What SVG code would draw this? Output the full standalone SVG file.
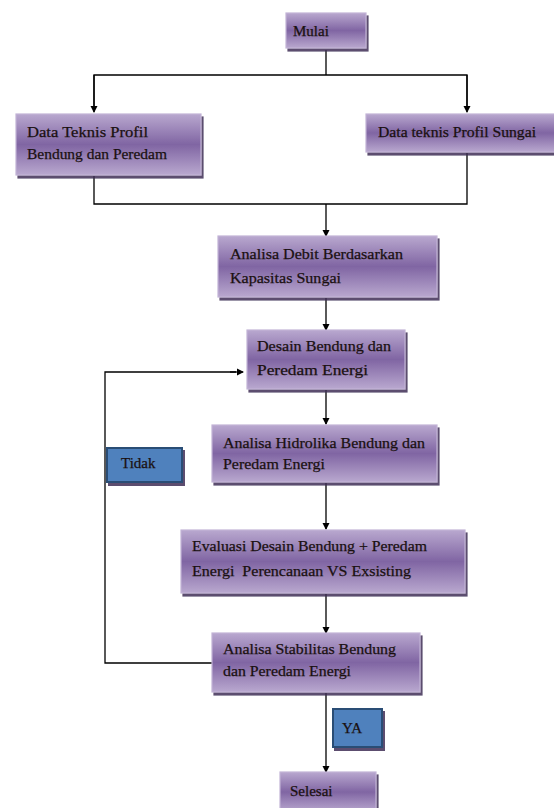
<svg xmlns="http://www.w3.org/2000/svg" width="554" height="808" viewBox="0 0 554 808">
<defs>
<linearGradient id="pg" x1="0" y1="0" x2="0" y2="1">
<stop offset="0" stop-color="#b9a8cf"/>
<stop offset="0.5" stop-color="#8065a3"/>
<stop offset="1" stop-color="#b9a8cf"/>
</linearGradient>
<filter id="sh" x="-10%" y="-10%" width="130%" height="140%">
<feOffset dx="1.5" dy="2.5" in="SourceAlpha" result="o"/>
<feFlood flood-color="#3f2f55" flood-opacity="0.85"/>
<feComposite in2="o" operator="in" result="s"/>
<feMerge><feMergeNode in="s"/><feMergeNode in="SourceGraphic"/></feMerge>
</filter>
<marker id="ah" markerWidth="8" markerHeight="8" refX="6" refY="4" orient="auto" markerUnits="userSpaceOnUse">
<path d="M0,0.5 L7,4 L0,7.5 Z" fill="#000"/>
</marker>
</defs>
<style>
.p{fill:url(#pg);stroke:#c2b3d6;stroke-width:1.2;filter:url(#sh)}
.b{fill:#4f81bd;stroke:#2c4d75;stroke-width:2;filter:url(#sh)}
text{font-family:"Liberation Serif","DejaVu Serif",serif;font-size:15px;fill:#1a1010;stroke:#1a1010;stroke-width:0.25}
.c line,.c polyline{stroke:#000;stroke-width:1.3;fill:none}
</style>
<rect width="554" height="808" fill="#fff"/>
<g class="c" id="connectors">
<line x1="326" y1="50" x2="326" y2="75"/>
<polyline points="94,106 94,75 467,75 467,106" />
<line x1="94" y1="75" x2="94" y2="112" marker-end="url(#ah)"/>
<line x1="467" y1="75" x2="467" y2="112" marker-end="url(#ah)"/>
<polyline points="94,176 94,204 94,204 467,204 467,153"/>
<line x1="326" y1="204" x2="326" y2="236" marker-end="url(#ah)"/>
<line x1="326" y1="298" x2="326" y2="330" marker-end="url(#ah)"/>
<line x1="326" y1="390" x2="326" y2="424" marker-end="url(#ah)"/>
<line x1="326" y1="483" x2="326" y2="529" marker-end="url(#ah)"/>
<line x1="326" y1="594" x2="326" y2="633" marker-end="url(#ah)"/>
<polyline points="212,663 105,663 105,372 236,372"/>
<line x1="230" y1="372" x2="243" y2="372" marker-end="url(#ah)"/>
<line x1="326" y1="693" x2="326" y2="772" marker-end="url(#ah)"/>
</g>
<g id="mulai"><rect class="p" x="286" y="13" width="80" height="35"/><text x="293" y="36">Mulai</text></g>
<g id="data-bendung"><rect class="p" x="16" y="114" width="185" height="61"/><text x="27" y="137" textLength="121" lengthAdjust="spacingAndGlyphs">Data Teknis Profil</text><text x="27" y="159" textLength="140" lengthAdjust="spacingAndGlyphs">Bendung dan Peredam</text></g>
<g id="data-sungai"><rect class="p" x="366" y="114" width="192" height="38"/><text x="378" y="137" textLength="158" lengthAdjust="spacingAndGlyphs">Data teknis Profil Sungai</text></g>
<g id="analisa-debit"><rect class="p" x="218" y="236" width="219" height="61"/><text x="230" y="259" textLength="173" lengthAdjust="spacingAndGlyphs">Analisa Debit Berdasarkan</text><text x="230" y="283" textLength="111" lengthAdjust="spacingAndGlyphs">Kapasitas Sungai</text></g>
<g id="desain"><rect class="p" x="247" y="330" width="158" height="59"/><text x="257" y="351" textLength="134" lengthAdjust="spacingAndGlyphs">Desain Bendung dan</text><text x="257" y="375" textLength="111" lengthAdjust="spacingAndGlyphs">Peredam Energi</text></g>
<g id="tidak"><rect class="b" x="107" y="448" width="75" height="34"/><text x="121" y="468">Tidak</text></g>
<g id="hidrolika"><rect class="p" x="212" y="425" width="225" height="57"/><text x="223" y="448" textLength="202" lengthAdjust="spacingAndGlyphs">Analisa Hidrolika Bendung dan</text><text x="223" y="469" textLength="102" lengthAdjust="spacingAndGlyphs">Peredam Energi</text></g>
<g id="evaluasi"><rect class="p" x="181" y="530" width="284" height="63"/><text x="192" y="551" textLength="235" lengthAdjust="spacingAndGlyphs">Evaluasi Desain Bendung + Peredam</text><text x="192" y="576" xml:space="preserve" textLength="219" lengthAdjust="spacingAndGlyphs">Energi  Perencanaan VS Exsisting</text></g>
<g id="stabilitas"><rect class="p" x="212" y="633" width="208" height="59"/><text x="223" y="654" textLength="173" lengthAdjust="spacingAndGlyphs">Analisa Stabilitas Bendung</text><text x="223" y="676" textLength="128" lengthAdjust="spacingAndGlyphs">dan Peredam Energi</text></g>
<g id="ya"><rect class="b" x="333" y="709" width="49" height="38"/><text x="342" y="733">YA</text></g>
<g id="selesai"><rect class="p" x="280" y="772" width="96" height="40"/><text x="290" y="796">Selesai</text></g>
</svg>
